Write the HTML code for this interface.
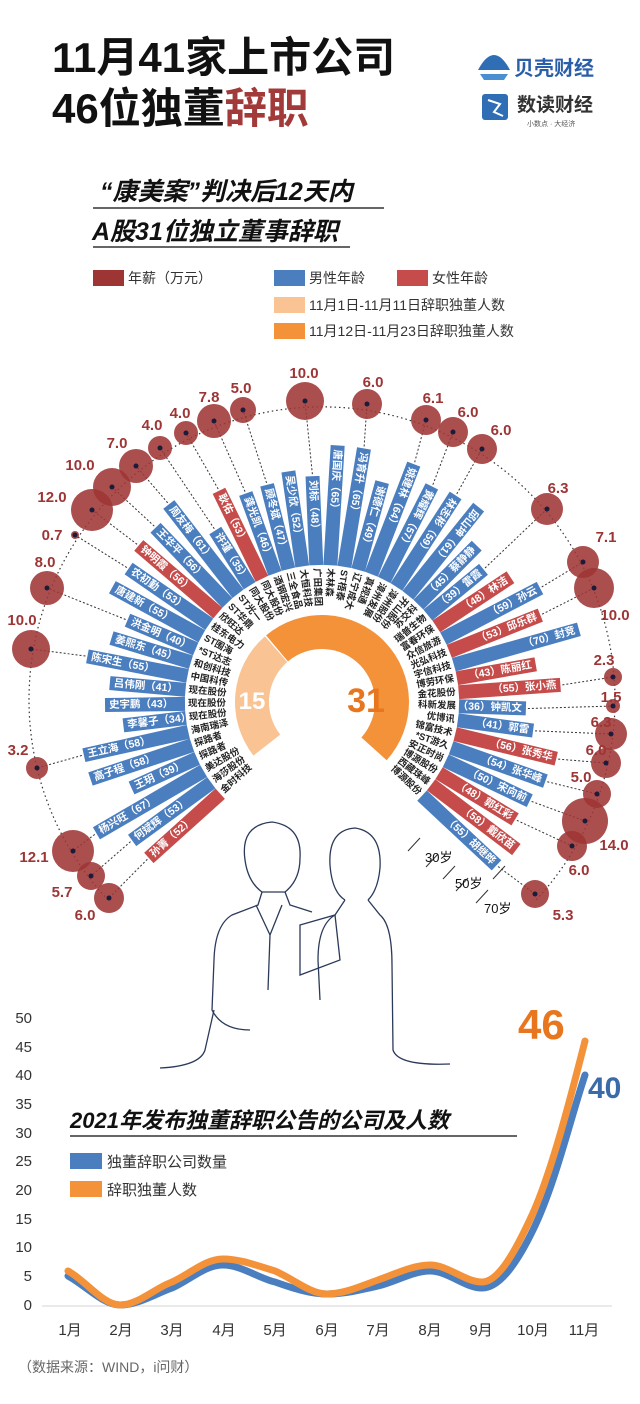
<!DOCTYPE html>
<html><head><meta charset="utf-8">
<style>
body{margin:0;background:#fff;}
svg{display:block;}
text{font-family:"Liberation Sans","Noto Sans CJK SC",sans-serif;}
.b{fill:#4a7ebf}.f{fill:#c64b4b}
.ni,.no{font-size:10.5px;font-weight:bold;fill:#fff;dominant-baseline:central}
.no{text-anchor:end}
.ci,.co{font-size:9.5px;font-weight:bold;fill:#222;dominant-baseline:central}
.co{text-anchor:end}
.bub{fill:#9e3535;fill-opacity:.88}
.dot{fill:#1b1b3a}
.val{font-size:15px;font-weight:bold;fill:#9e3535;text-anchor:middle}
.il{fill:none;stroke:#2b3a5a;stroke-width:1.3}
rect.b,rect.f{width:14px}
</style></head>
<body>
<svg width="640" height="1404" viewBox="0 0 640 1404" xmlns="http://www.w3.org/2000/svg">
<text x="52" y="72" font-size="42" font-weight="bold" fill="#111">11月41家上市公司</text>
<text x="52" y="123" font-size="42" font-weight="bold" fill="#111">46位独董<tspan fill="#a33a3a">辞职</tspan></text>
<g fill="#2f6db5">
<path d="M478 70 Q494 40 510 70 Z"/><path d="M480 74 L508 74 L504 80 L484 80Z" fill="#4a90d0"/>
</g>
<text x="514" y="75" font-size="20" font-weight="bold" fill="#2a5ea8">贝壳财经</text>
<rect x="482" y="94" width="26" height="26" rx="3" fill="#2f6db5"/>
<path d="M488 100 L500 104 L494 112 L503 116" stroke="#fff" stroke-width="2" fill="none"/>
<text x="517" y="111" font-size="19" font-weight="bold" fill="#333">数读财经</text>
<text x="527" y="126" font-size="7" fill="#555">小数点 · 大经济</text>
<text x="100" y="200" font-size="25" font-weight="bold" font-style="italic" fill="#111">“康美案”判决后12天内</text>
<line x1="93" y1="208" x2="384" y2="208" stroke="#333" stroke-width="1.5"/>
<text x="92" y="240" font-size="25" font-weight="bold" font-style="italic" fill="#111">A股31位独立董事辞职</text>
<line x1="93" y1="247" x2="350" y2="247" stroke="#333" stroke-width="1.5"/>
<rect x="93" y="270" width="31" height="16" fill="#9e3535"/><text x="128" y="283" font-size="14" fill="#333">年薪（万元）</text>
<rect x="274" y="270" width="31" height="16" fill="#4a7ebf"/><text x="309" y="283" font-size="14" fill="#333">男性年龄</text>
<rect x="397" y="270" width="31" height="16" fill="#c64b4b"/><text x="432" y="283" font-size="14" fill="#333">女性年龄</text>
<rect x="274" y="297" width="31" height="16" fill="#f9c393"/><text x="309" y="310" font-size="14" fill="#333">11月1日-11月11日辞职独董人数</text>
<rect x="274" y="323" width="31" height="16" fill="#f4923a"/><text x="309" y="336" font-size="14" fill="#333">11月12日-11月23日辞职独董人数</text>

<g id="donut"></g>
<text x="252" y="709" font-size="24" font-weight="bold" fill="#fff" text-anchor="middle">15</text>
<text x="366" y="712" font-size="34" font-weight="bold" fill="#e8761e" text-anchor="middle">31</text>

<path d="M108 900 A293 293 0 1 1 536 900" fill="none" stroke="#333" stroke-width="1.2" stroke-dasharray="1.5,3"/>

<g transform="rotate(-132 322 702)"><rect class="f" x="315" y="469" width="14" height="96"/><text class="ni" transform="translate(322 473) rotate(90)">孙菁（52）</text><text class="ci" transform="translate(322 568) rotate(90)">金时科技</text></g>
<g transform="rotate(-126.1 322 702)"><rect class="b" x="315" y="467" width="14" height="98"/><text class="ni" transform="translate(322 471) rotate(90)">何斌辉（53）</text><text class="ci" transform="translate(322 568) rotate(90)">海莎股份</text></g>
<g transform="rotate(-120.2 322 702)"><rect class="b" x="315" y="441" width="14" height="124"/><text class="ni" transform="translate(322 445) rotate(90)">杨兴旺（67）</text><text class="ci" transform="translate(322 568) rotate(90)">美达股份</text></g>
<g transform="rotate(-114.3 322 702)"><rect class="b" x="315" y="493" width="14" height="72"/><text class="ni" transform="translate(322 497) rotate(90)">王玥（39）</text><text class="ci" transform="translate(322 568) rotate(90)">探路者</text></g>
<g transform="rotate(-108.4 322 702)"><rect class="b" x="315" y="458" width="14" height="107"/><text class="ni" transform="translate(322 462) rotate(90)">高子程（58）</text><text class="ci" transform="translate(322 568) rotate(90)">探路者</text></g>
<g transform="rotate(-102.6 322 702)"><rect class="b" x="315" y="458" width="14" height="107"/><text class="ni" transform="translate(322 462) rotate(90)">王立海（58）</text><text class="ci" transform="translate(322 568) rotate(90)">海南瑞泽</text></g>
<g transform="rotate(-96.7 322 702)"><rect class="b" x="315" y="502" width="14" height="63"/><text class="ni" transform="translate(322 506) rotate(90)">李馨子（34）</text><text class="ci" transform="translate(322 568) rotate(90)">现在股份</text></g>
<g transform="rotate(-90.8 322 702)"><rect class="b" x="315" y="485" width="14" height="80"/><text class="ni" transform="translate(322 489) rotate(90)">史宇鹏（43）</text><text class="ci" transform="translate(322 568) rotate(90)">现在股份</text></g>
<g transform="rotate(-84.9 322 702)"><rect class="b" x="315" y="489" width="14" height="76"/><text class="ni" transform="translate(322 493) rotate(90)">吕伟刚（41）</text><text class="ci" transform="translate(322 568) rotate(90)">现在股份</text></g>
<g transform="rotate(-79 322 702)"><rect class="b" x="315" y="463" width="14" height="102"/><text class="ni" transform="translate(322 467) rotate(90)">陈宋生（55）</text><text class="ci" transform="translate(322 568) rotate(90)">中国科传</text></g>
<g transform="rotate(-73.1 322 702)"><rect class="b" x="315" y="482" width="14" height="83"/><text class="ni" transform="translate(322 486) rotate(90)">姜熙东（45）</text><text class="ci" transform="translate(322 568) rotate(90)">和创科技</text></g>
<g transform="rotate(-67.2 322 702)"><rect class="b" x="315" y="491" width="14" height="74"/><text class="ni" transform="translate(322 495) rotate(90)">洪金明（40）</text><text class="ci" transform="translate(322 568) rotate(90)">*ST达志</text></g>
<g transform="rotate(-61.3 322 702)"><rect class="b" x="315" y="463" width="14" height="102"/><text class="ni" transform="translate(322 467) rotate(90)">唐建新（55）</text><text class="ci" transform="translate(322 568) rotate(90)">ST围海</text></g>
<g transform="rotate(-55.4 322 702)"><rect class="b" x="315" y="467" width="14" height="98"/><text class="ni" transform="translate(322 471) rotate(90)">农初勤（53）</text><text class="ci" transform="translate(322 568) rotate(90)">桂东电力</text></g>
<g transform="rotate(-49.5 322 702)"><rect class="f" x="315" y="461" width="14" height="104"/><text class="ni" transform="translate(322 465) rotate(90)">钟明霞（56）</text><text class="ci" transform="translate(322 568) rotate(90)">欣旺达</text></g>
<g transform="rotate(-43.7 322 702)"><rect class="b" x="315" y="461" width="14" height="104"/><text class="ni" transform="translate(322 465) rotate(90)">王华平（56）</text><text class="ci" transform="translate(322 568) rotate(90)">ST华鼎</text></g>
<g transform="rotate(-37.8 322 702)"><rect class="b" x="315" y="452" width="14" height="113"/><text class="ni" transform="translate(322 456) rotate(90)">周友梅（61）</text><text class="ci" transform="translate(322 568) rotate(90)">ST光一</text></g>
<g transform="rotate(-31.9 322 702)"><rect class="b" x="315" y="500" width="14" height="65"/><text class="ni" transform="translate(322 504) rotate(90)">许瑾（35）</text><text class="ci" transform="translate(322 568) rotate(90)">同大股份</text></g>
<g transform="rotate(-26 322 702)"><rect class="f" x="315" y="467" width="14" height="98"/><text class="ni" transform="translate(322 471) rotate(90)">耿佑（53）</text><text class="ci" transform="translate(322 568) rotate(90)">同大股份</text></g>
<g transform="rotate(-20.1 322 702)"><rect class="b" x="315" y="480" width="14" height="85"/><text class="ni" transform="translate(322 484) rotate(90)">龚光凯（46）</text><text class="ci" transform="translate(322 568) rotate(90)">酒钢宏兴</text></g>
<g transform="rotate(-14.2 322 702)"><rect class="b" x="315" y="478" width="14" height="87"/><text class="ni" transform="translate(322 482) rotate(90)">顾冬斌（47）</text><text class="ci" transform="translate(322 568) rotate(90)">三全食品</text></g>
<g transform="rotate(-8.3 322 702)"><rect class="b" x="315" y="469" width="14" height="96"/><text class="ni" transform="translate(322 473) rotate(90)">吴少欣（52）</text><text class="ci" transform="translate(322 568) rotate(90)">大恒科技</text></g>
<g transform="rotate(-2.4 322 702)"><rect class="b" x="315" y="476" width="14" height="89"/><text class="ni" transform="translate(322 480) rotate(90)">刘标（48）</text><text class="ci" transform="translate(322 568) rotate(90)">广田集团</text></g>
<g transform="rotate(3.5 322 702)"><rect class="b" x="315" y="445" width="14" height="120"/><text class="ni" transform="translate(322 449) rotate(90)">唐国庆（65）</text><text class="ci" transform="translate(322 568) rotate(90)">木林森</text></g>
<g transform="rotate(9.4 322 702)"><rect class="b" x="315" y="445" width="14" height="120"/><text class="ni" transform="translate(322 449) rotate(90)">冯育升（65）</text><text class="ci" transform="translate(322 568) rotate(90)">ST梧泰</text></g>
<g transform="rotate(15.3 322 702)"><rect class="b" x="315" y="474" width="14" height="91"/><text class="ni" transform="translate(322 478) rotate(90)">谢德仁（49）</text><text class="ci" transform="translate(322 568) rotate(90)">辽宁成大</text></g>
<g transform="rotate(21.1 322 702)"><rect class="b" x="315" y="447" width="14" height="118"/><text class="ni" transform="translate(322 451) rotate(90)">姚建林（64）</text><text class="ci" transform="translate(322 568) rotate(90)">真视通</text></g>
<g transform="rotate(27 322 702)"><rect class="b" x="315" y="460" width="14" height="105"/><text class="ni" transform="translate(322 464) rotate(90)">黄耀辉（57）</text><text class="ci" transform="translate(322 568) rotate(90)">漳州发展</text></g>
<g transform="rotate(32.9 322 702)"><rect class="b" x="315" y="456" width="14" height="109"/><text class="ni" transform="translate(322 460) rotate(90)">林志彬（59）</text><text class="ci" transform="translate(322 568) rotate(90)">漳州股份</text></g>
<g transform="rotate(38.8 322 702)"><rect class="b" x="315" y="452" width="14" height="113"/><text class="ni" transform="translate(322 456) rotate(90)">邱山坤（61）</text><text class="ci" transform="translate(322 568) rotate(90)">开山股份</text></g>
<g transform="rotate(44.7 322 702)"><rect class="b" x="315" y="482" width="14" height="83"/><text class="no" transform="translate(322 486) rotate(-90)">（45）蔡静静</text><text class="co" transform="translate(322 568) rotate(-90)">苏交科</text></g>
<g transform="rotate(50.6 322 702)"><rect class="b" x="315" y="493" width="14" height="72"/><text class="no" transform="translate(322 497) rotate(-90)">（39）雷霞</text><text class="co" transform="translate(322 568) rotate(-90)">瑞普生物</text></g>
<g transform="rotate(56.5 322 702)"><rect class="f" x="315" y="476" width="14" height="89"/><text class="no" transform="translate(322 480) rotate(-90)">（48）林洁</text><text class="co" transform="translate(322 568) rotate(-90)">富春环保</text></g>
<g transform="rotate(62.4 322 702)"><rect class="b" x="315" y="456" width="14" height="109"/><text class="no" transform="translate(322 460) rotate(-90)">（59）孙云</text><text class="co" transform="translate(322 568) rotate(-90)">众信旅游</text></g>
<g transform="rotate(68.3 322 702)"><rect class="f" x="315" y="467" width="14" height="98"/><text class="no" transform="translate(322 471) rotate(-90)">（53）邱乐群</text><text class="co" transform="translate(322 568) rotate(-90)">光弘科技</text></g>
<g transform="rotate(74.2 322 702)"><rect class="b" x="315" y="435" width="14" height="130"/><text class="no" transform="translate(322 439) rotate(-90)">（70）封竞</text><text class="co" transform="translate(322 568) rotate(-90)">宇信科技</text></g>
<g transform="rotate(80 322 702)"><rect class="f" x="315" y="485" width="14" height="80"/><text class="no" transform="translate(322 489) rotate(-90)">（43）陈丽红</text><text class="co" transform="translate(322 568) rotate(-90)">博劳环保</text></g>
<g transform="rotate(85.9 322 702)"><rect class="f" x="315" y="463" width="14" height="102"/><text class="no" transform="translate(322 467) rotate(-90)">（55）张小燕</text><text class="co" transform="translate(322 568) rotate(-90)">金花股份</text></g>
<g transform="rotate(91.8 322 702)"><rect class="b" x="315" y="498" width="14" height="67"/><text class="no" transform="translate(322 502) rotate(-90)">（36）钟凯文</text><text class="co" transform="translate(322 568) rotate(-90)">科新发展</text></g>
<g transform="rotate(97.7 322 702)"><rect class="b" x="315" y="489" width="14" height="76"/><text class="no" transform="translate(322 493) rotate(-90)">（41）郭雷</text><text class="co" transform="translate(322 568) rotate(-90)">优博讯</text></g>
<g transform="rotate(103.6 322 702)"><rect class="f" x="315" y="461" width="14" height="104"/><text class="no" transform="translate(322 465) rotate(-90)">（56）张秀华</text><text class="co" transform="translate(322 568) rotate(-90)">锦富技术</text></g>
<g transform="rotate(109.5 322 702)"><rect class="b" x="315" y="465" width="14" height="100"/><text class="no" transform="translate(322 469) rotate(-90)">（54）张华峰</text><text class="co" transform="translate(322 568) rotate(-90)">*ST游久</text></g>
<g transform="rotate(115.4 322 702)"><rect class="b" x="315" y="472" width="14" height="93"/><text class="no" transform="translate(322 476) rotate(-90)">（50）宋向前</text><text class="co" transform="translate(322 568) rotate(-90)">安正时尚</text></g>
<g transform="rotate(121.3 322 702)"><rect class="f" x="315" y="476" width="14" height="89"/><text class="no" transform="translate(322 480) rotate(-90)">（48）郭红彩</text><text class="co" transform="translate(322 568) rotate(-90)">博源股份</text></g>
<g transform="rotate(127.2 322 702)"><rect class="f" x="315" y="458" width="14" height="107"/><text class="no" transform="translate(322 462) rotate(-90)">（58）戴欣苗</text><text class="co" transform="translate(322 568) rotate(-90)">西藏珠峰</text></g>
<g transform="rotate(133.1 322 702)"><rect class="b" x="315" y="463" width="14" height="102"/><text class="no" transform="translate(322 467) rotate(-90)">（55）胡继晔</text><text class="co" transform="translate(322 568) rotate(-90)">博源股份</text></g>

<g stroke="#333" stroke-width="1">
<line x1="420" y1="838" x2="408" y2="851"/><line x1="438" y1="854" x2="426" y2="867"/><line x1="455" y1="866" x2="443" y2="879"/>
<line x1="468" y1="878" x2="456" y2="891"/><line x1="488" y1="890" x2="476" y2="903"/><line x1="505" y1="866" x2="493" y2="879"/>
</g>
<text x="425" y="862" font-size="13" fill="#111">30岁</text>
<text x="455" y="888" font-size="13" fill="#111">50岁</text>
<text x="484" y="913" font-size="13" fill="#111">70岁</text>

<g id="leaders"></g>
<g>
<circle class="bub" cx="305" cy="401" r="19"/><circle class="bub" cx="243" cy="410" r="13"/><circle class="bub" cx="214" cy="421" r="17"/>
<circle class="bub" cx="186" cy="433" r="12"/><circle class="bub" cx="160" cy="448" r="12"/><circle class="bub" cx="136" cy="466" r="17"/>
<circle class="bub" cx="112" cy="487" r="19"/><circle class="bub" cx="92" cy="510" r="21"/><circle class="bub" cx="75" cy="535" r="4"/>
<circle class="bub" cx="47" cy="588" r="17"/><circle class="bub" cx="31" cy="649" r="19"/><circle class="bub" cx="37" cy="768" r="11"/>
<circle class="bub" cx="73" cy="851" r="21"/><circle class="bub" cx="91" cy="876" r="14"/><circle class="bub" cx="109" cy="898" r="15"/>
<circle class="bub" cx="367" cy="404" r="15"/><circle class="bub" cx="426" cy="420" r="15"/><circle class="bub" cx="453" cy="432" r="15"/>
<circle class="bub" cx="482" cy="449" r="15"/><circle class="bub" cx="547" cy="509" r="16"/><circle class="bub" cx="583" cy="562" r="16"/>
<circle class="bub" cx="594" cy="588" r="20"/><circle class="bub" cx="613" cy="677" r="9"/><circle class="bub" cx="613" cy="706" r="7"/>
<circle class="bub" cx="611" cy="734" r="16"/><circle class="bub" cx="606" cy="763" r="15"/><circle class="bub" cx="597" cy="794" r="14"/>
<circle class="bub" cx="585" cy="821" r="23"/><circle class="bub" cx="572" cy="846" r="15"/><circle class="bub" cx="535" cy="894" r="14"/>
</g>
<g id="dots"></g>
<g>
<text class="val" x="304" y="378">10.0</text><text class="val" x="241" y="393">5.0</text><text class="val" x="209" y="402">7.8</text>
<text class="val" x="180" y="418">4.0</text><text class="val" x="152" y="430">4.0</text><text class="val" x="117" y="448">7.0</text>
<text class="val" x="80" y="470">10.0</text><text class="val" x="52" y="502">12.0</text><text class="val" x="52" y="540">0.7</text>
<text class="val" x="45" y="567">8.0</text><text class="val" x="22" y="625">10.0</text><text class="val" x="18" y="755">3.2</text>
<text class="val" x="34" y="862">12.1</text><text class="val" x="62" y="897">5.7</text><text class="val" x="85" y="920">6.0</text>
<text class="val" x="373" y="387">6.0</text><text class="val" x="433" y="403">6.1</text><text class="val" x="468" y="417">6.0</text>
<text class="val" x="501" y="435">6.0</text><text class="val" x="558" y="493">6.3</text><text class="val" x="606" y="542">7.1</text>
<text class="val" x="615" y="620">10.0</text><text class="val" x="604" y="665">2.3</text><text class="val" x="611" y="702">1.5</text>
<text class="val" x="601" y="727">6.3</text><text class="val" x="596" y="755">6.0</text><text class="val" x="581" y="782">5.0</text>
<text class="val" x="614" y="850">14.0</text><text class="val" x="579" y="875">6.0</text><text class="val" x="563" y="920">5.3</text>
</g>

<g class="il">
<path d="M245 860 Q240 825 272 822 Q302 826 300 858 Q300 880 285 892 L262 892 Q248 882 245 860Z"/>
<path d="M262 892 L258 905 L232 915 Q215 925 214 960 L212 1010 Q222 1030 250 1030 M285 892 L290 905 L312 912"/>
<path d="M256 905 L270 935 L282 905 M270 935 L268 990"/>
<path d="M214 1010 L205 1050 Q200 1066 160 1068"/>
<path d="M330 865 Q328 830 355 828 Q382 832 380 868 Q378 890 368 900 M330 865 Q332 892 345 900"/>
<path d="M345 900 L335 915 Q318 925 318 960 L320 1000 M368 900 L380 915 Q392 925 392 965 L393 1050 Q398 1066 450 1064"/>
<path d="M300 925 L335 915 L340 960 L300 975Z"/>
</g>

<g font-size="15" fill="#333" text-anchor="end">
<text x="32" y="1023">50</text><text x="32" y="1052">45</text><text x="32" y="1080">40</text><text x="32" y="1109">35</text>
<text x="32" y="1138">30</text><text x="32" y="1166">25</text><text x="32" y="1195">20</text><text x="32" y="1224">15</text>
<text x="32" y="1252">10</text><text x="32" y="1281">5</text><text x="32" y="1310">0</text>
</g>
<line x1="42" y1="1306" x2="612" y2="1306" stroke="#e3e3e3" stroke-width="1.5"/>
<g font-size="15" fill="#333" text-anchor="middle">
<text x="70" y="1335">1月</text><text x="121" y="1335">2月</text><text x="172" y="1335">3月</text><text x="224" y="1335">4月</text>
<text x="275" y="1335">5月</text><text x="327" y="1335">6月</text><text x="378" y="1335">7月</text><text x="430" y="1335">8月</text>
<text x="481" y="1335">9月</text><text x="533" y="1335">10月</text><text x="584" y="1335">11月</text>
</g>
<path d="M68 1276 C85 1285 103 1305 120 1305 C138 1305 155 1294 172 1288 C190 1280 205 1265 223 1265 C241 1265 258 1278 275 1282 C292 1288 310 1294 327 1294 C344 1294 361 1290 378 1286 C395 1282 413 1271 430 1271 C448 1271 465 1288 482 1288 C499 1288 516 1265 533 1230 C555 1185 570 1120 585 1075" fill="none" stroke="#4a7ebf" stroke-width="7" stroke-linecap="round"/>
<path d="M68 1271 C85 1280 103 1305 120 1305 C138 1305 155 1288 172 1282 C190 1274 205 1259 223 1259 C241 1259 258 1266 275 1271 C292 1278 310 1294 327 1294 C344 1294 361 1286 378 1280 C395 1274 413 1265 430 1265 C448 1265 465 1282 482 1282 C499 1282 516 1250 533 1213 C552 1170 570 1100 585 1041" fill="none" stroke="#f4923a" stroke-width="7" stroke-linecap="round"/>
<text x="518" y="1039" font-size="42" font-weight="bold" fill="#e8761e">46</text>
<text x="588" y="1098" font-size="30" font-weight="bold" fill="#3a6aa8">40</text>
<text x="70" y="1128" font-size="22" font-weight="bold" font-style="italic" fill="#111">2021年发布独董辞职公告的公司及人数</text>
<line x1="70" y1="1136" x2="517" y2="1136" stroke="#333" stroke-width="1.5"/>
<rect x="70" y="1153" width="32" height="16" fill="#4a7ebf"/><text x="107" y="1167" font-size="15" fill="#333">独董辞职公司数量</text>
<rect x="70" y="1181" width="32" height="16" fill="#f4923a"/><text x="107" y="1195" font-size="15" fill="#333">辞职独董人数</text>
<text x="18" y="1372" font-size="14" fill="#666">（数据来源：WIND，i问财）</text>
</svg>
<script>
(function(){
var NS="http://www.w3.org/2000/svg",cx=322,cy=702;
function pt(b,r){var t=b*Math.PI/180;return[cx+r*Math.sin(t),cy-r*Math.cos(t)];}
var d=document.getElementById("donut");
function arc(a0,a1,col){var ro=87,ri=53,p1=pt(a0,ro),p2=pt(a1,ro),p3=pt(a1,ri),p4=pt(a0,ri),lg=(a1-a0)>180?1:0;
var p=document.createElementNS(NS,"path");p.setAttribute("d","M"+p1+"A"+ro+" "+ro+" 0 "+lg+" 1 "+p2+"L"+p3+"A"+ri+" "+ri+" 0 "+lg+" 0 "+p4+"Z");p.setAttribute("fill",col);d.appendChild(p);}
arc(-128,-41,"#f9c393");arc(-40,132,"#f4923a");
var ages=[52,53,67,39,58,58,34,43,41,55,45,40,55,53,56,56,61,35,53,46,47,52,48,65,65,49,64,57,59,61,45,39,48,59,53,70,43,55,36,41,56,54,50,48,58,55];
var L=[[0,109,898],[1,91,876],[2,73,851],[5,37,768],[9,31,649],[11,47,588],[13,75,535],[14,92,510],[15,112,487],[16,136,466],[17,160,448],[18,186,433],[19,214,421],[20,243,410],[22,305,401],[24,367,404],[26,426,420],[27,453,432],[28,482,449],[31,547,509],[33,583,562],[34,594,588],[37,613,677],[38,613,706],[39,611,734],[40,606,763],[41,597,794],[42,585,821],[43,572,846],[45,535,894]];
var g=document.getElementById("leaders"),dg=document.getElementById("dots");
L.forEach(function(e){var b=-132+5.89*e[0],r=137+Math.round(ages[e[0]]*1.85)+2,p=pt(b,r);
var l=document.createElementNS(NS,"line");l.setAttribute("x1",p[0]);l.setAttribute("y1",p[1]);l.setAttribute("x2",e[1]);l.setAttribute("y2",e[2]);
l.setAttribute("stroke","#333");l.setAttribute("stroke-width","1");l.setAttribute("stroke-dasharray","2,2");g.appendChild(l);
var c=document.createElementNS(NS,"circle");c.setAttribute("cx",e[1]);c.setAttribute("cy",e[2]);c.setAttribute("r","2.5");c.setAttribute("class","dot");dg.appendChild(c);});
})();
</script>
</body></html>
